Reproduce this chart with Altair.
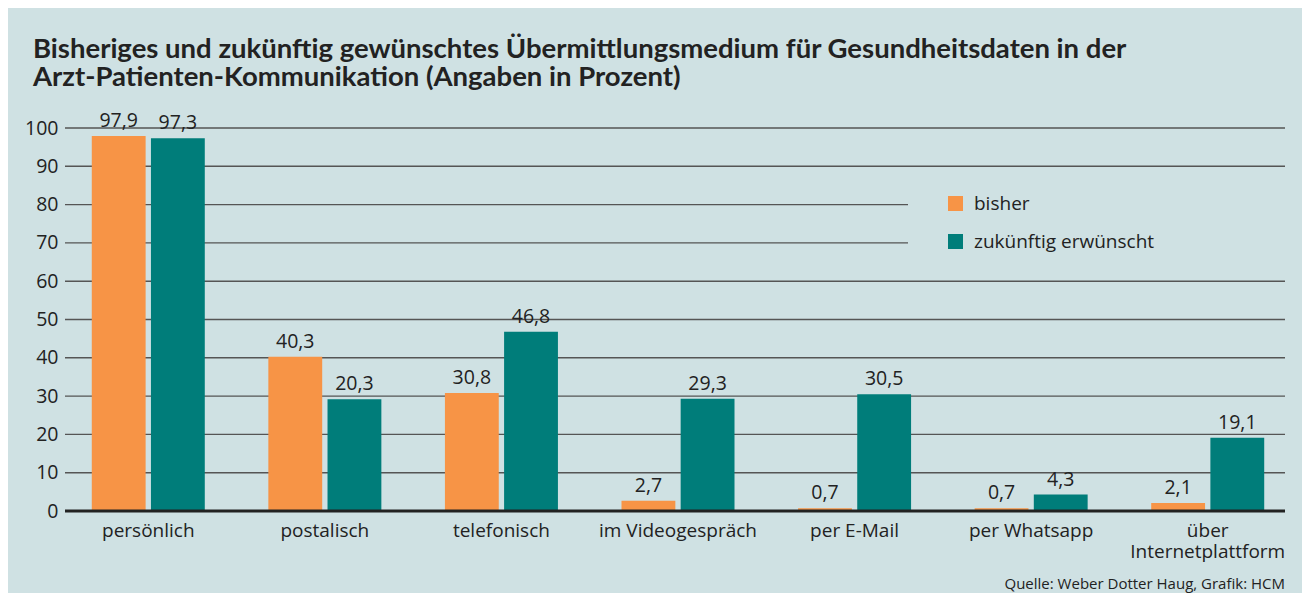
import altair as alt
import pandas as pd

categories = ["persönlich", "postalisch", "telefonisch", "im Videogespräch",
              "per E-Mail", "per Whatsapp", "über Internetplattform"]
series = ["bisher", "zukünftig erwünscht"]
bisher = [97.9, 40.3, 30.8, 2.7, 0.7, 0.7, 2.1]
zukunft = [97.3, 29.2, 46.8, 29.3, 30.5, 4.3, 19.1]
bisher_labels = ["97,9", "40,3", "30,8", "2,7", "0,7", "0,7", "2,1"]
zukunft_labels = ["97,3", "20,3", "46,8", "29,3", "30,5", "4,3", "19,1"]
ticks = [0, 10, 20, 30, 40, 50, 60, 70, 80, 90, 100]
colors = ["#F79446", "#007D7A"]
title_lines = ["Bisheriges und zukünftig gewünschtes Übermittlungsmedium für Gesundheitsdaten in der",
               "Arzt-Patienten-Kommunikation (Angaben in Prozent)"]
source = "Quelle: Weber Dotter Haug, Grafik: HCM"

BG = "#CFE1E3"
TXT = "#222222"
FONT = "Open Sans"
FS = 19
NFS = 19.5

rows = []
for c, b, z, bl, zl in zip(categories, bisher, zukunft, bisher_labels, zukunft_labels):
    rows.append({"cat": c, "series": series[0], "value": b, "label": bl})
    rows.append({"cat": c, "series": series[1], "value": z, "label": zl})
df = pd.DataFrame(rows)
grid_df = pd.DataFrame({"value": ticks[1:]})
zero_df = pd.DataFrame({"value": [0]})
src_df = pd.DataFrame({"s": [source]})

yscale = alt.Scale(domain=[0, 100], nice=False)
yaxis = alt.Axis(values=ticks, domain=False, ticks=False, grid=False,
                 labelFontSize=NFS, labelFont=FONT, labelColor=TXT, labelPadding=2)
xscale = alt.Scale(paddingInner=0.36, paddingOuter=0.18)
xoff = alt.XOffset("series:N", sort=series, scale=alt.Scale(paddingInner=0.09))

grid = alt.Chart(grid_df).mark_rule(color="#555555", strokeWidth=1.4).encode(
    y=alt.Y("value:Q", scale=yscale, axis=yaxis, title=None),
    x=alt.value(5), x2=alt.value(1225))

mask = alt.Chart(zero_df).mark_rect(color=BG).encode(
    x=alt.value(848), x2=alt.value(1235), y=alt.value(60), y2=alt.value(134))

bars = alt.Chart(df).mark_bar().encode(
    x=alt.X("cat:N", sort=categories, scale=xscale, title=None,
            axis=alt.Axis(domain=False, ticks=False, labelAngle=0, labelFontSize=FS,
                          labelFont=FONT, labelColor=TXT, labelPadding=10,
                          labelLineHeight=21, labelBaseline="top",
                          labelExpr="datum.value == 'über Internetplattform' ? ['über', 'Internetplattform'] : datum.value")),
    xOffset=xoff,
    y=alt.Y("value:Q", scale=yscale, axis=yaxis, title=None),
    color=alt.Color("series:N", sort=series,
                    scale=alt.Scale(domain=series, range=colors),
                    legend=alt.Legend(title=None, orient="none", legendX=886, legendY=66,
                                      symbolType="square", symbolSize=225, symbolStrokeWidth=0,
                                      labelFontSize=FS, labelFont=FONT, labelColor=TXT,
                                      labelLimit=400, labelOffset=9, rowPadding=18, padding=0)),
)

labels = alt.Chart(df).mark_text(baseline="alphabetic", dy=-9, fontSize=NFS, font=FONT, color=TXT).encode(
    x=alt.X("cat:N", sort=categories, scale=xscale),
    xOffset=xoff,
    y=alt.Y("value:Q", scale=yscale, axis=yaxis, title=None),
    text="label:N")

zero = alt.Chart(zero_df).mark_rule(color=TXT, strokeWidth=3).encode(
    y=alt.Y("value:Q", scale=yscale, axis=yaxis, title=None), x=alt.value(5), x2=alt.value(1225))

src = alt.Chart(src_df).mark_text(align="right", baseline="alphabetic", fontSize=15,
                                  font=FONT, color=TXT).encode(
    x=alt.value(1225), y=alt.value(461), text="s:N")

chart = alt.layer(grid, mask, bars, labels, zero, src).properties(
    width=1236, height=383,
    autosize=alt.AutoSizeParams(type="none"),
    padding={"left": 52, "top": 120, "right": 6, "bottom": 82},
    background=BG,
    title=alt.TitleParams(text=title_lines, anchor="start", frame="group", dx=-27, offset=20,
                          fontSize=27.5, font="Lato", fontWeight="bold", color=TXT, lineHeight=28),
).configure_view(stroke=None)

chart.save("out.html", embed_options={"renderer": "svg", "actions": False})
